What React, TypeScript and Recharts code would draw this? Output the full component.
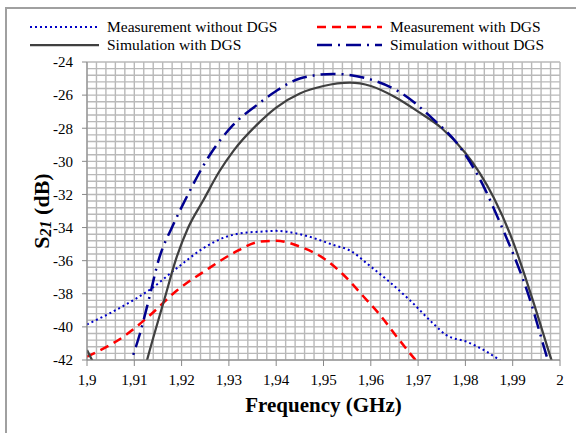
import { LineChart, Line, XAxis, YAxis, CartesianGrid } from "recharts";

const xTicks = [1.9, 1.91, 1.92, 1.93, 1.94, 1.95, 1.96, 1.97, 1.98, 1.99, 2.0];
const yTicks = [-42, -40, -38, -36, -34, -32, -30, -28, -26, -24];

// minor gridlines, 5 per major step
const xGrid = Array.from({ length: 51 }, (_, i) => Math.round((1.9 + i * 0.002) * 1000) / 1000);
const yGrid = Array.from({ length: 46 }, (_, i) => Math.round((-42 + i * 0.4) * 10) / 10);

// [frequency GHz, S21 dB]
const measWithoutDgs = [
    [1.9, -39.85], [1.905, -39.15], [1.91, -38.35], [1.9133, -37.75], [1.919, -36.45],
    [1.9246, -35.25], [1.9295, -34.55], [1.9338, -34.3], [1.9366, -34.25], [1.94, -34.2],
    [1.945, -34.4], [1.9521, -35.05], [1.956, -35.45], [1.9591, -36.15], [1.9634, -37.15],
    [1.9683, -38.4], [1.9732, -39.8], [1.976, -40.5], [1.9803, -40.9], [1.9845, -41.5],
    [1.9877, -42.1], [1.99, -42.6],
];
const measWithDgs = [
    [1.9, -41.8], [1.9084, -40.45], [1.9133, -39.3], [1.919, -37.8], [1.9253, -36.55],
    [1.9309, -35.55], [1.9366, -34.85], [1.94, -34.8], [1.945, -35.15], [1.95, -35.85],
    [1.9542, -36.85], [1.9584, -38.15], [1.962, -39.3], [1.9655, -40.6], [1.9683, -41.6],
    [1.97, -42.2], [1.972, -43],
];
const simWithDgs = [
    [1.9, -41.4], [1.902, -42.5], [1.906, -44], [1.91, -44.5], [1.9115, -43.3],
    [1.9127, -42], [1.9167, -38], [1.9186, -36.1], [1.9214, -34.0], [1.9245, -32.4],
    [1.928, -30.6], [1.931, -29.35], [1.9366, -27.6], [1.94, -26.75], [1.945, -25.9],
    [1.95, -25.45], [1.9556, -25.25], [1.96, -25.45], [1.965, -26.1], [1.97, -27.0],
    [1.975, -28.0], [1.98, -29.5], [1.983, -30.7], [1.986, -32.2], [1.99, -34.8],
    [1.9937, -37.9], [1.9982, -42], [2.0, -43.6],
];
const simWithoutDgs = [
    [1.906, -44.5], [1.9094, -42], [1.9112, -40.4], [1.9132, -38.2], [1.9151, -36],
    [1.9182, -33.85], [1.921, -32.2], [1.926, -29.6], [1.9309, -27.8], [1.9359, -26.6],
    [1.94, -25.75], [1.945, -25.0], [1.952, -24.72], [1.959, -24.98], [1.966, -25.8],
    [1.973, -27.4], [1.979, -29.2], [1.984, -31.6], [1.987, -33.5], [1.9937, -38.4],
    [1.997, -41.6], [1.999, -43.5],
];

const rows = (pts: number[][]) => pts.map(([f, db]) => ({ f, db }));

const FONT = '"Liberation Serif", "Times New Roman", serif';

const series = [
    { name: "Measurement without DGS", data: measWithoutDgs, color: "#0000c8", width: 2, dash: "2 3", col: 0, row: 0 },
    { name: "Measurement with DGS", data: measWithDgs, color: "#ff0000", width: 2.5, dash: "9 6", col: 1, row: 0 },
    { name: "Simulation with DGS", data: simWithDgs, color: "#404040", width: 2.25, dash: undefined, col: 0, row: 1 },
    { name: "Simulation without DGS", data: simWithoutDgs, color: "#00008f", width: 2.5, dash: "15 6 2 6", col: 1, row: 1 },
];

const legendCols = [{ line: 30, text: 107 }, { line: 317, text: 390 }];
const legendRows = [27, 45];

export default function App() {
    return (
        <div style={{ position: "absolute", left: 0, top: 0, width: 576, height: 433, overflow: "hidden", background: "#fff", fontFamily: FONT }}>
            <div style={{ position: "absolute", left: 5, top: 7, width: 640, height: 520, border: "2px solid #a0a0a0" }} />

            {series.map((s) => (
                <div key={s.name} style={{ position: "absolute", left: legendCols[s.col].line, top: legendRows[s.row] - 10, height: 20, display: "flex", alignItems: "center" }}>
                    <svg width={legendCols[s.col].text - legendCols[s.col].line - 8} height={6}>
                        <line x1={0} y1={3} x2={200} y2={3} stroke={s.color} strokeWidth={s.width} strokeDasharray={s.dash} />
                    </svg>
                    <span style={{ fontSize: 15.5, marginLeft: 8, color: "#000", whiteSpace: "nowrap", lineHeight: "20px" }}>{s.name}</span>
                </div>
            ))}

            <div style={{ position: "absolute", left: 0, top: 0 }}>
                <LineChart width={576} height={433} margin={{ top: 62, right: 16, bottom: 43, left: 0 }}>
                    <CartesianGrid stroke="#b9b9b9" strokeWidth={1.4} horizontalValues={yGrid} verticalValues={xGrid} />
                    <XAxis
                        type="number"
                        dataKey="f"
                        domain={[1.9, 2.0]}
                        ticks={xTicks}
                        interval={0}
                        allowDataOverflow
                        height={30}
                        stroke="#888"
                        tickSize={6}
                        tickMargin={8}
                        tick={{ fontSize: 15, fill: "#000", fontFamily: FONT }}
                        tickFormatter={(v) => String(v).replace(".", ",")}
                        label={(props: any) => {
                            const vb = props.viewBox || { x: 87, width: 473 };
                            return (
                                <text x={vb.x + vb.width / 2} y={405} textAnchor="middle" dominantBaseline="central" fontFamily={FONT} fontWeight="bold" fontSize={21} fill="#000">
                                    Frequency (GHz)
                                </text>
                            );
                        }}
                    />
                    <YAxis
                        type="number"
                        domain={[-42, -24]}
                        ticks={yTicks}
                        interval={0}
                        allowDataOverflow
                        width={87}
                        stroke="#888"
                        tickSize={5}
                        tickMargin={9}
                        tick={{ fontSize: 15, fill: "#000", fontFamily: FONT }}
                        label={(props: any) => {
                            const vb = props.viewBox || { y: 62, height: 298 };
                            const cy = vb.y + vb.height / 2;
                            return (
                                <text x={41} y={cy} transform={`rotate(-90 41 ${cy})`} textAnchor="middle" dominantBaseline="central" fontFamily={FONT} fontWeight="bold" fontSize={22} fill="#000">
                                    <tspan>S</tspan>
                                    <tspan fontStyle="italic" fontSize={16} dy={4}>21</tspan>
                                    <tspan dy={-4}> (dB)</tspan>
                                </text>
                            );
                        }}
                    />
                    {series.map((s) => (
                        <Line
                            key={s.name}
                            data={rows(s.data)}
                            dataKey="db"
                            name={s.name}
                            type="monotone"
                            stroke={s.color}
                            strokeWidth={s.width}
                            strokeDasharray={s.dash}
                            dot={false}
                            activeDot={false}
                            isAnimationActive={false}
                        />
                    ))}
                </LineChart>
            </div>
        </div>
    );
}
